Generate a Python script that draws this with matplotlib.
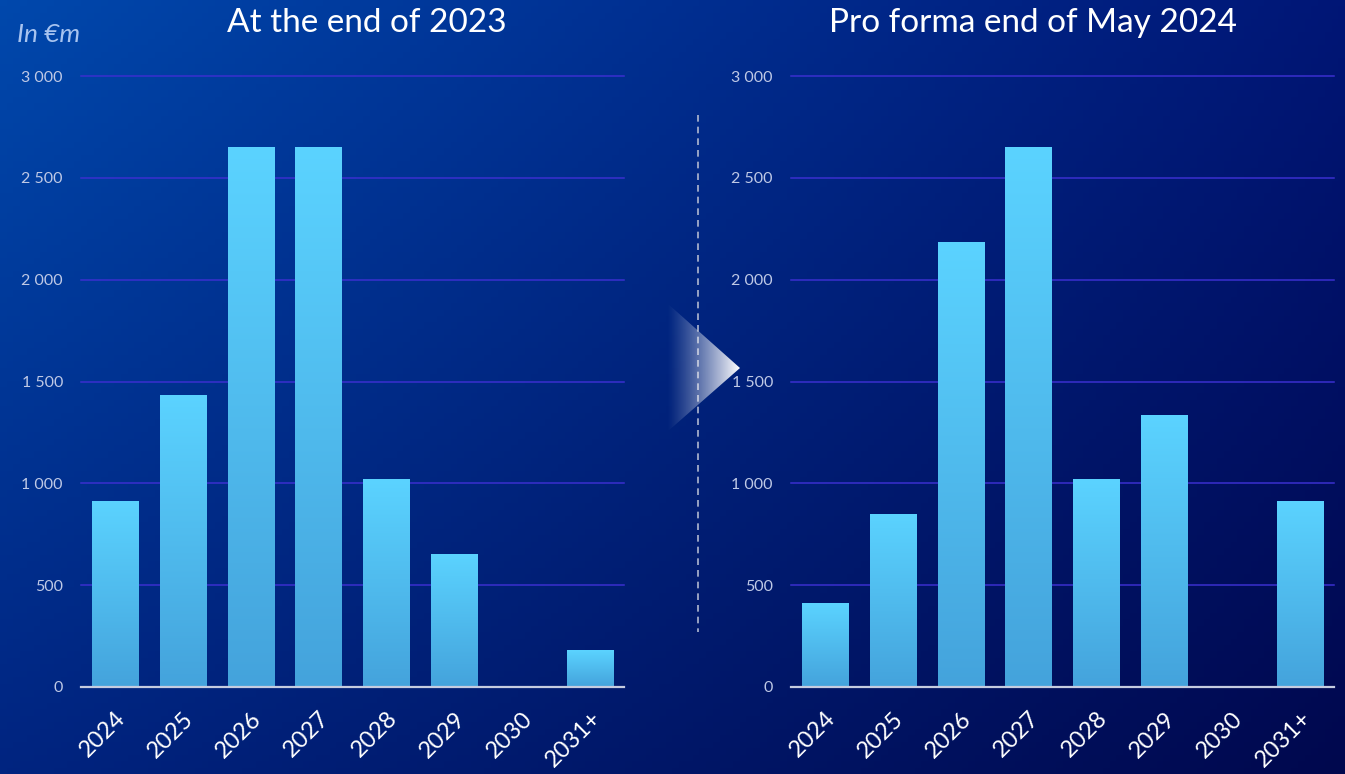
import numpy as np
import matplotlib.pyplot as plt
import matplotlib.transforms as mtransforms
from matplotlib.patches import Polygon
from matplotlib.colors import LinearSegmentedColormap

years = ["2024", "2025", "2026", "2027", "2028", "2029", "2030", "2031+"]
end_2023 = [915, 1435, 2650, 2650, 1020, 655, 0, 180]
may_2024 = [410, 850, 2185, 2650, 1020, 1335, 0, 915]
titles = ["At the end of 2023", "Pro forma end of May 2024"]
yticks = [0, 500, 1000, 1500, 2000, 2500, 3000]

plt.rcParams['font.family'] = ['Lato', 'DejaVu Sans']

W, H = 1345, 774
fig = plt.figure(figsize=(W / 100, H / 100), dpi=100)

# background gradient, bilinear from four corner colours
bg = fig.add_axes([0, 0, 1, 1])
tl = np.array([0, 72, 172]) / 255
tr = np.array([0, 22, 118]) / 255
bl = np.array([0, 36, 128]) / 255
br = np.array([0, 8, 78]) / 255
u = np.linspace(0, 1, 200)[None, :, None]
v = np.linspace(0, 1, 120)[:, None, None]
img = (1 - v) * ((1 - u) * tl + u * tr) + v * ((1 - u) * bl + u * br)
bg.imshow(img, extent=[0, 1, 0, 1], aspect='auto', origin='upper')
bg.set_xlim(0, 1)
bg.set_ylim(0, 1)
bg.axis('off')

bar_cmap = LinearSegmentedColormap.from_list('bar', ['#44A3DC', '#5BD3FF'])
grad = np.linspace(0, 1, 256)[:, None]
shift = mtransforms.ScaledTranslation(-8 / 100, 0, fig.dpi_scale_trans)


def draw_panel(left_px, values, title, title_x):
    ax = fig.add_axes([left_px / W, 87 / H, 543 / W, 611 / H])
    ax.patch.set_alpha(0)
    x = np.arange(len(years))
    for y in yticks[1:]:
        ax.axhline(y, color='#3A2FCF', lw=1.1, zorder=1, clip_on=False)
    bars = ax.bar(x, values, width=0.68, color='none', edgecolor='none', zorder=2)
    for b in bars:
        h = b.get_height()
        if h <= 0:
            continue
        im = ax.imshow(grad, extent=[b.get_x(), b.get_x() + b.get_width(), 0, h],
                       aspect='auto', origin='lower', cmap=bar_cmap, zorder=2)
        im.set_clip_path(b)
    ax.axhline(0, color='#C5CCE0', lw=1.6, zorder=3, clip_on=False)
    ax.set_xlim(-0.5, len(years) - 0.5)
    ax.set_ylim(0, 3000)
    ax.set_yticks(yticks)
    ax.set_yticklabels([f"{t:,}".replace(",", " ") for t in yticks],
                       color='#BFC9E6', fontsize=11.5)
    ax.set_xticks(x)
    ax.set_xticklabels(years, rotation=45, ha='right', va='top',
                       rotation_mode='anchor', color='white', fontsize=17)
    for lab in ax.get_xticklabels():
        lab.set_transform(lab.get_transform() + shift)
    ax.tick_params(length=0, axis='y', pad=13)
    ax.tick_params(length=0, axis='x', pad=15)
    for s in ax.spines.values():
        s.set_visible(False)
    fig.text(title_x / W, 1 - 23 / H, title, ha='center', va='center',
             color='white', fontsize=24)
    return ax


draw_panel(81, end_2023, titles[0], 367)
draw_panel(791, may_2024, titles[1], 1033)

fig.text(17 / W, 1 - 35 / H, "In €m", ha='left', va='center', color='#A8C4F0',
         fontsize=19, style='italic')

# dashed separator
bg.plot([698 / W, 698 / W], [1 - 115 / H, 1 - 632 / H], color='#B0B8D0',
        lw=1.2, ls=(0, (4, 3)), zorder=5)

# arrow triangle fading in from the left
tri = Polygon([[667 / W, 1 - 303 / H], [740 / W, 1 - 368 / H], [667 / W, 1 - 432 / H]],
              closed=True, transform=bg.transAxes, facecolor='none', edgecolor='none')
bg.add_patch(tri)
ramp = np.zeros((2, 256, 4))
ramp[..., :3] = 1
ramp[..., 3] = np.linspace(0, 1, 256) ** 1.2
tim = bg.imshow(ramp, extent=[667 / W, 740 / W, 1 - 432 / H, 1 - 303 / H],
                aspect='auto', zorder=6)
tim.set_clip_path(tri)
bg.set_xlim(0, 1)
bg.set_ylim(0, 1)

fig.savefig("out.png", dpi=100)
